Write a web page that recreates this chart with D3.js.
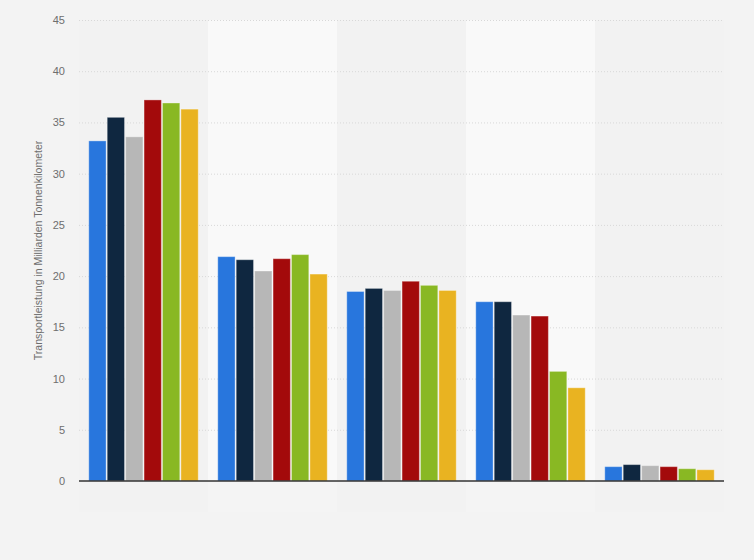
<!DOCTYPE html>
<html><head><meta charset="utf-8">
<script src="https://cdn.jsdelivr.net/npm/d3@7"></script>
<style>
html,body{margin:0;padding:0;background:#f3f3f3;}
svg{display:block;font-family:Arial,"Liberation Sans",sans-serif;}
</style></head><body>
<div id="chart"></div>
<script>
const categories = ["A","B","C","D","E"];
const seriesNames = ["S1","S2","S3","S4","S5","S6"];
const seriesColors = ["#2876dd","#0f2740","#b7b7b7","#a30a0b","#89b823","#e9b321"];
const s1 = [33.2, 21.9, 18.5, 17.5, 1.4];
const s2 = [35.5, 21.6, 18.8, 17.5, 1.6];
const s3 = [33.6, 20.5, 18.6, 16.2, 1.5];
const s4 = [37.2, 21.7, 19.5, 16.1, 1.4];
const s5 = [36.9, 22.1, 19.1, 10.7, 1.2];
const s6 = [36.3, 20.2, 18.6, 9.1, 1.1];
const yTicks = [0,5,10,15,20,25,30,35,40,45];
const yLabel = "Transportleistung in Milliarden Tonnenkilometer";

const series = [s1,s2,s3,s4,s5,s6];
const W = 754, H = 560;
const m = {left:79, right:30, top:20, bottom:79};
const svg = d3.select("#chart").append("svg").attr("width",W).attr("height",H);
svg.append("rect").attr("width",W).attr("height",H).attr("fill","#f3f3f3");

const x0 = d3.scaleBand().domain(categories).range([m.left, W-m.right]).paddingInner(0).paddingOuter(0);
const x1 = d3.scaleBand().domain(seriesNames).range([0, x0.bandwidth()]).paddingInner(0.06).paddingOuter(0.53);
const y = d3.scaleLinear().domain([0,45]).range([H-m.bottom, m.top]);

// alternating bands
const bands = svg.append("g");
bands.selectAll("rect.main").data(categories).join("rect").attr("class","main")
  .attr("x", d=>x0(d)).attr("y", m.top)
  .attr("width", x0.bandwidth()).attr("height", (H-m.bottom)-m.top)
  .attr("fill", (d,i)=> i%2===1 ? "#f9f9f9" : "#f2f2f2");
bands.selectAll("rect.ext").data(categories).join("rect").attr("class","ext")
  .attr("x", d=>x0(d)).attr("y", H-m.bottom)
  .attr("width", x0.bandwidth()).attr("height", 31)
  .attr("fill", (d,i)=> i%2===1 ? "#f4f4f4" : "#f2f2f2");

// grid
svg.append("g").selectAll("line").data(yTicks.filter(t=>t>0)).join("line")
  .attr("x1", m.left).attr("x2", W-m.right)
  .attr("y1", d=>y(d)+0.5).attr("y2", d=>y(d)+0.5)
  .attr("stroke","#d8d8d8").attr("stroke-width",1).attr("stroke-dasharray","1,2");

// y axis
const yAxis = d3.axisLeft(y).tickValues(yTicks).tickSize(0).tickPadding(14);
const ga = svg.append("g").attr("transform",`translate(${m.left},0)`).call(yAxis);
ga.select(".domain").remove();
ga.selectAll("text").attr("fill","#6e6e6e").style("font-size","11px");

// bars
const groups = svg.append("g").selectAll("g").data(categories).join("g")
  .attr("transform", d=>`translate(${x0(d)},0)`);
groups.selectAll("rect").data((d,i)=>series.map((s,j)=>({name:seriesNames[j], v:s[i], c:seriesColors[j]})))
  .join("rect")
  .attr("x", d=>x1(d.name)).attr("width", x1.bandwidth())
  .attr("y", d=>y(d.v)).attr("height", d=>y(0)-y(d.v))
  .attr("fill", d=>d.c)
  .attr("stroke","rgba(255,255,255,0.35)").attr("stroke-width",1);

// baseline
svg.append("line").attr("x1",m.left).attr("x2",W-m.right)
  .attr("y1",y(0)).attr("y2",y(0)).attr("stroke","#333").attr("stroke-width",1.5);

// y label
svg.append("text").attr("transform",`translate(42,${(y(0)+y(45))/2}) rotate(-90)`)
  .attr("text-anchor","middle").attr("fill","#6e6e6e").style("font-size","10.5px").text(yLabel);
</script>
</body></html>
